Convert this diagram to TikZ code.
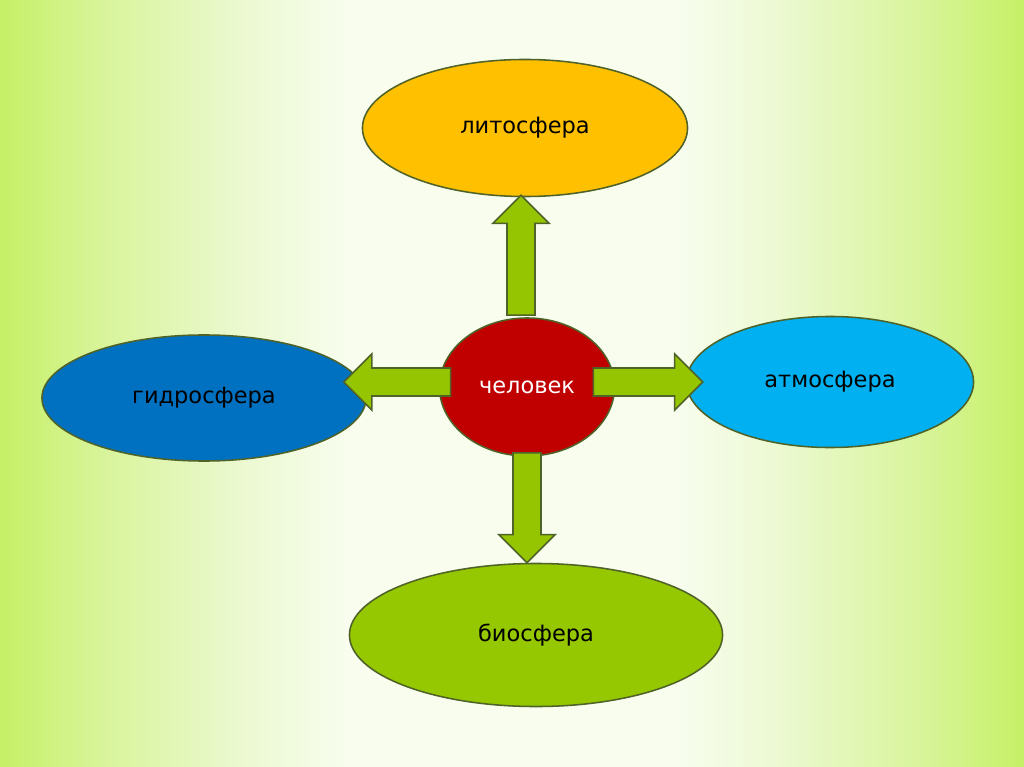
\documentclass[tikz,border=0pt]{standalone}
\usepackage{fontspec}
\setmainfont{DejaVu Sans}
\usetikzlibrary{shapes.geometric,calc}
\definecolor{lithocol}{HTML}{FFC000}
\definecolor{hydrocol}{HTML}{0070C0}
\definecolor{atmocol}{HTML}{00B0F0}
\definecolor{biocol}{HTML}{95C800}
\definecolor{mancol}{HTML}{C00000}
\definecolor{arrowcol}{HTML}{95C400}
\definecolor{edgecol}{HTML}{4F6228}
\definecolor{bgpale}{HTML}{F8FDEE}
\definecolor{bglight}{HTML}{ECF9D2}
\definecolor{bgmid}{HTML}{D8F49A}
\definecolor{bglime}{HTML}{C6F066}
\pgfdeclarehorizontalshading{backdrop}{100bp}{color(0bp)=(bglime); color(25bp)=(bglime); color(30bp)=(bgmid); color(37bp)=(bglight); color(42bp)=(bgpale); color(58bp)=(bgpale); color(63bp)=(bglight); color(70bp)=(bgmid); color(75bp)=(bglime); color(100bp)=(bglime)}
\tikzset{
	sphere/.style={ellipse, draw=edgecol, line width=1.1pt, inner sep=0pt, font=\fontsize{16}{19}\selectfont},
	arrowbox/.style={fill=arrowcol, draw=edgecol, line width=1.1pt, line join=miter}
}
% block arrow from #1 to #2, tip at #2
\newcommand\blockarrow[2]{%
	\draw[arrowbox] ($(#1)!0.35cm!90:(#2)$) -- ($(#2)!0.7cm!(#1)!0.35cm!90:(#2)$)
		-- ($(#2)!0.7cm!(#1)!0.7cm!90:(#2)$) -- (#2)
		-- ($(#2)!0.7cm!(#1)!0.7cm!-90:(#2)$) -- ($(#2)!0.7cm!(#1)!0.35cm!-90:(#2)$)
		-- ($(#1)!0.35cm!-90:(#2)$) -- cycle;}
\begin{document}
\begin{tikzpicture}[x=0.025cm, y=-0.025cm]
	\useasboundingbox (0, 0) rectangle (1024, 767);
	\shade [shading=backdrop] (0, 0) rectangle (1024, 767);
	% spheres
	\node [sphere, fill=lithocol, minimum width=8.125cm, minimum height=3.425cm] (litho) at (525, 128) {литосфера};
	\node [sphere, fill=hydrocol, minimum width=8.1cm, minimum height=3.15cm] (hydro) at (204, 398) {гидросфера};
	\node [sphere, fill=atmocol, minimum width=7.175cm, minimum height=3.275cm] (atmo) at (830, 382) {атмосфера};
	\node [sphere, fill=biocol, minimum width=9.325cm, minimum height=3.575cm] (bio) at (536, 635) {биосфера};
	\node [sphere, fill=mancol, text=white, minimum width=4.375cm, minimum height=3.45cm] (man) at (527, 387) {человек};
	% arrow ends
	\coordinate (fromU) at ($(man.north)+(-6, -2)$);
	\coordinate (toU) at ($(litho.south)+(-4, -2)$);
	\coordinate (fromD) at ($(man.south)+(0, -4)$);
	\coordinate (toD) at (man.south |- bio.north);
	\coordinate (fromL) at ($(man.west)+(12, -5)$);
	\coordinate (toL) at ($(hydro.east)+(-23, -16)$);
	\coordinate (fromR) at ($(man.east)+(-22, -5)$);
	\coordinate (toR) at ($(atmo.west)+(17, 0)$);
	\foreach \s in {U, D, L, R} {
		\blockarrow{from\s}{to\s}
	}
\end{tikzpicture}
\end{document}
